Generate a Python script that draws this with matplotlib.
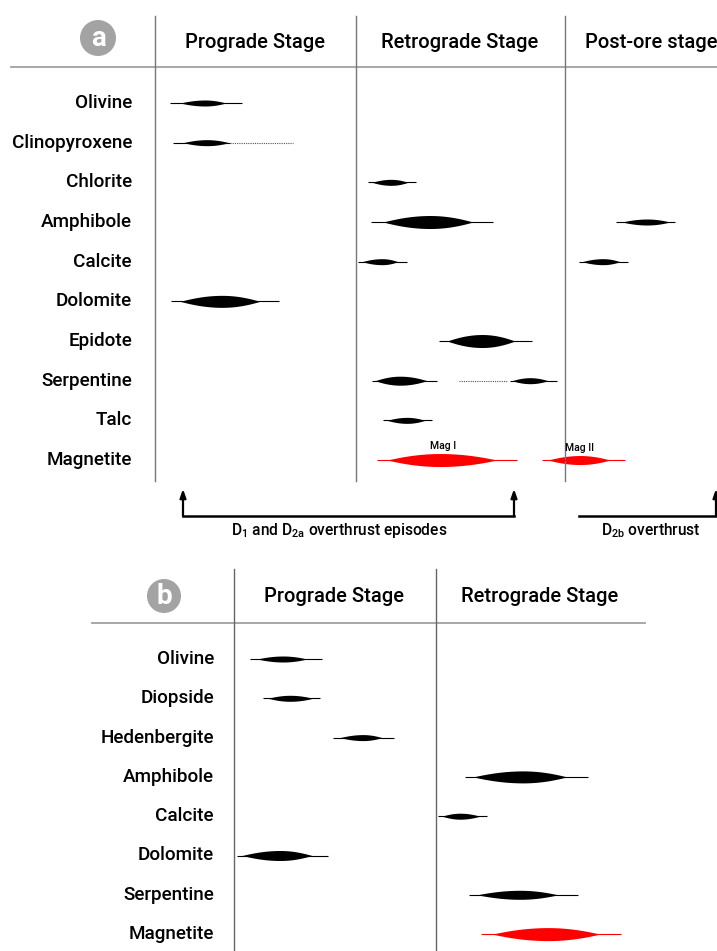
import numpy as np
import matplotlib.pyplot as plt
from matplotlib.patches import Circle

plt.rcParams['font.family'] = ['Roboto', 'DejaVu Sans']
plt.rcParams['font.weight'] = 'medium'
plt.rcParams['mathtext.fontset'] = 'custom'
plt.rcParams['mathtext.rm'] = 'Roboto:medium'

# ---- panel a data (x = relative timing on the chart's horizontal scale) ----
a_minerals = ['Olivine', 'Clinopyroxene', 'Chlorite', 'Amphibole', 'Calcite',
              'Dolomite', 'Epidote', 'Serpentine', 'Talc', 'Magnetite']
a_stages = ['Prograde Stage', 'Retrograde Stage', 'Post-ore stage']
a_row = [0, 1, 2, 3, 3, 4, 4, 5, 6, 7, 7, 8, 9, 9]
a_line0 = [170, 173, 368, 371, 616, 358, 579, 171, 439, 372, 510, 383, 377, 542]
a_line1 = [242, 230, 416, 493, 675, 407, 628, 279, 532, 437, 557, 432, 517, 625]
a_body0 = [180, 183, 372, 383, 622, 362, 582, 180, 447, 375, 512, 387, 387, 548]
a_peak = [205, 207, 391, 430, 647, 382, 603, 222, 482, 400, 530, 407, 440, 580]
a_body1 = [226, 229, 408, 473, 670, 398, 620, 260, 515, 427, 548, 425, 497, 610]
a_thick = [6, 6, 6, 13, 6, 6, 6, 12, 13, 9, 6, 6, 13, 9]
a_dot_row = [1, 7]
a_dot0 = [230, 459]
a_dot1 = [293, 507]
a_mag_names = ['Mag I', 'Mag II']

# ---- panel b data ----
b_minerals = ['Olivine', 'Diopside', 'Hedenbergite', 'Amphibole', 'Calcite',
              'Dolomite', 'Serpentine', 'Magnetite']
b_stages = ['Prograde Stage', 'Retrograde Stage']
b_row = [0, 1, 2, 3, 4, 5, 6, 7]
b_line0 = [250, 263, 333, 465, 438, 237, 469, 481]
b_line1 = [322, 320, 394, 588, 487, 328, 578, 621]
b_body0 = [257, 268, 340, 473, 442, 242, 477, 492]
b_peak = [283, 290, 363, 523, 460, 280, 520, 548]
b_body1 = [307, 313, 382, 567, 480, 312, 558, 600]
b_thick = [6, 6, 6, 12, 6, 10, 9, 13]

# layout
A_Y0, A_STEP = 103, 39.67
B_Y0, B_STEP = 659, 39.3

fig = plt.figure(figsize=(7.17, 9.51), dpi=100)
ax = fig.add_axes([0, 0, 1, 1])
ax.set_xlim(0, 717)
ax.set_ylim(951, 0)
ax.axis('off')


def lens(y, l0, l1, b0, pk, b1, t, color):
    ax.plot([l0, l1], [y, y], color=color, lw=0.8, solid_capstyle='butt')
    xl = np.linspace(b0, pk, 60)
    xr = np.linspace(pk, b1, 60)
    hl = t / 2 * (1 - ((pk - xl) / (pk - b0)) ** 2) ** 1.05
    hr = t / 2 * (1 - ((xr - pk) / (b1 - pk)) ** 2) ** 1.05
    xs = np.concatenate([xl, xr])
    hs = np.concatenate([hl, hr])
    ax.fill_between(xs, y - hs, y + hs, color=color, lw=0)


def badge(x, y, r, letter):
    ax.add_patch(Circle((x, y), r, color='#a3a3a3', lw=0))
    ax.text(x, y + 1, letter, ha='center', va='center', color='white',
            fontsize=20, fontweight='bold')


# ================= panel a =================
badge(98, 38, 18, 'a')
ax.plot([11, 717], [67, 67], color='#a0a0a0', lw=1.3)
for xv in [155, 356, 565]:
    ax.plot([xv, xv], [16, 481], color='#777777', lw=1.0)
ax.text(255, 42, a_stages[0], ha='center', va='center', fontsize=14.5)
ax.text(460, 42, a_stages[1], ha='center', va='center', fontsize=14.5)
ax.text(585, 42, a_stages[2], ha='left', va='center', fontsize=14.5)

for i, m in enumerate(a_minerals):
    ax.text(132, A_Y0 + A_STEP * i, m, ha='right', va='center', fontsize=13.6)

mag_count = 0
for k in range(len(a_row)):
    y = A_Y0 + A_STEP * a_row[k]
    name = a_minerals[a_row[k]]
    col = 'red' if name == 'Magnetite' else 'black'
    lens(y, a_line0[k], a_line1[k], a_body0[k], a_peak[k], a_body1[k], a_thick[k], col)
    if name == 'Magnetite':
        if mag_count == 0:
            ax.text(a_peak[k] + 3, y - 14, a_mag_names[0], ha='center', va='center', fontsize=7.5)
        else:
            ax.text(565, y - 12, a_mag_names[1], ha='left', va='center', fontsize=7.5)
        mag_count += 1

for r, d0, d1 in zip(a_dot_row, a_dot0, a_dot1):
    y = A_Y0 + A_STEP * r
    ax.plot([d0, d1], [y, y], color='#555555', lw=0.8, ls=(0, (1, 1)))

# overthrust brackets
arrow = dict(arrowstyle='-|>,head_length=0.5,head_width=0.18', lw=1.6,
             color='black', shrinkA=0, shrinkB=0)
ax.plot([183, 514], [516, 516], color='black', lw=1.8, solid_capstyle='projecting')
for xv in [183, 514]:
    ax.annotate('', xy=(xv, 489), xytext=(xv, 516), arrowprops=arrow)
ax.plot([579, 716], [516, 516], color='black', lw=1.8)
ax.annotate('', xy=(716, 489), xytext=(716, 516), arrowprops=arrow)
ax.text(339, 531, r'D$_{\mathrm{1}}$ and D$_{\mathrm{2a}}$ overthrust episodes',
        ha='center', va='center', fontsize=11.2)
ax.text(651, 531, r'D$_{\mathrm{2b}}$ overthrust', ha='center', va='center', fontsize=11.2)

# ================= panel b =================
badge(164, 596, 17, 'b')
ax.plot([92, 645], [623, 623], color='#a0a0a0', lw=1.3)
for xv in [234, 436]:
    ax.plot([xv, xv], [569, 951], color='#666666', lw=1.0)
ax.text(334, 597, b_stages[0], ha='center', va='center', fontsize=14.5)
ax.text(540, 597, b_stages[1], ha='center', va='center', fontsize=14.5)

for i, m in enumerate(b_minerals):
    ax.text(214, B_Y0 + B_STEP * i, m, ha='right', va='center', fontsize=13.6)

for k in range(len(b_row)):
    y = B_Y0 + B_STEP * b_row[k]
    col = 'red' if b_minerals[b_row[k]] == 'Magnetite' else 'black'
    lens(y, b_line0[k], b_line1[k], b_body0[k], b_peak[k], b_body1[k], b_thick[k], col)

fig.savefig('out.png', dpi=100)
